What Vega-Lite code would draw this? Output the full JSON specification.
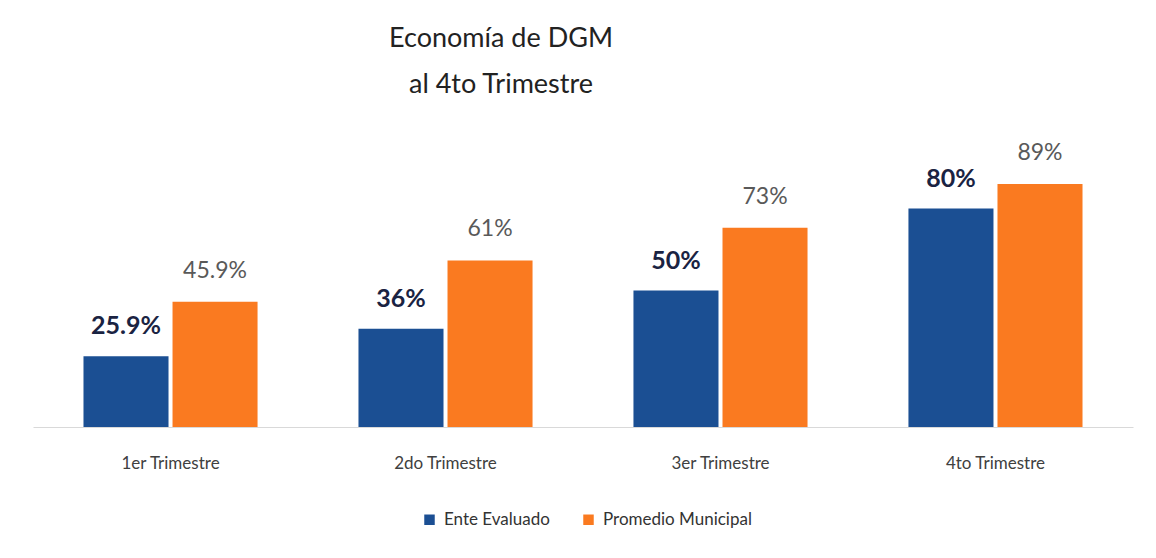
{
  "$schema": "https://vega.github.io/schema/vega-lite/v6.json",
  "autosize": "none",
  "width": 1100,
  "height": 273,
  "padding": {"left": 33, "top": 154, "right": 23, "bottom": 131},
  "background": "#ffffff",
  "config": {"view": {"stroke": null}, "font": "Lato"},
  "title": {
    "text": ["Economía de DGM", "al 4to Trimestre"],
    "font": "Lato",
    "fontSize": 27,
    "fontWeight": "normal",
    "color": "#222222",
    "lineHeight": 46,
    "anchor": "middle",
    "dx": -82,
    "offset": 43
  },
  "data": {
    "values": [
      {"trimestre": "1er Trimestre", "serie": "Ente Evaluado", "valor": 0.259},
      {"trimestre": "1er Trimestre", "serie": "Promedio Municipal", "valor": 0.459},
      {"trimestre": "2do Trimestre", "serie": "Ente Evaluado", "valor": 0.36},
      {"trimestre": "2do Trimestre", "serie": "Promedio Municipal", "valor": 0.61},
      {"trimestre": "3er Trimestre", "serie": "Ente Evaluado", "valor": 0.50},
      {"trimestre": "3er Trimestre", "serie": "Promedio Municipal", "valor": 0.73},
      {"trimestre": "4to Trimestre", "serie": "Ente Evaluado", "valor": 0.80},
      {"trimestre": "4to Trimestre", "serie": "Promedio Municipal", "valor": 0.89}
    ]
  },
  "encoding": {
    "x": {
      "field": "trimestre",
      "type": "nominal",
      "sort": null,
      "scale": {"paddingInner": 0.367, "paddingOuter": 0.1836},
      "axis": {
        "title": null,
        "labelAngle": 0,
        "ticks": false,
        "domainColor": "#d9d9d9",
        "domainWidth": 1,
        "labelFont": "Lato",
        "labelFontSize": 17,
        "labelColor": "#404040",
        "labelPadding": 28
      }
    },
    "xOffset": {
      "field": "serie",
      "type": "nominal",
      "scale": {"paddingInner": 0.045, "paddingOuter": 0}
    },
    "y": {
      "field": "valor",
      "type": "quantitative",
      "scale": {"domain": [0, 1]},
      "axis": null
    }
  },
  "layer": [
    {
      "mark": {"type": "bar"},
      "encoding": {
        "color": {
          "field": "serie",
          "type": "nominal",
          "scale": {
            "domain": ["Ente Evaluado", "Promedio Municipal"],
            "range": ["#1b4f93", "#fa7a20"]
          },
          "legend": {
            "title": null,
            "orient": "none",
            "legendX": 388,
            "legendY": 357,
            "direction": "horizontal",
            "symbolType": "square",
            "symbolSize": 110,
            "symbolStrokeWidth": 0,
            "labelFont": "Lato",
            "labelFontSize": 17,
            "labelColor": "#333333",
            "columnPadding": 30,
            "labelOffset": 6
          }
        }
      }
    },
    {
      "transform": [{"filter": "datum.serie == 'Ente Evaluado'"}],
      "mark": {
        "type": "text",
        "baseline": "alphabetic",
        "dy": -22,
        "font": "Lato",
        "fontSize": 25,
        "fontWeight": "bold",
        "color": "#1a2342"
      },
      "encoding": {"text": {"field": "valor", "type": "quantitative", "format": ".1~%"}}
    },
    {
      "transform": [{"filter": "datum.serie == 'Promedio Municipal'"}],
      "mark": {
        "type": "text",
        "baseline": "alphabetic",
        "dy": -24,
        "font": "Lato",
        "fontSize": 23,
        "fontWeight": "normal",
        "color": "#595959"
      },
      "encoding": {"text": {"field": "valor", "type": "quantitative", "format": ".1~%"}}
    }
  ]
}
